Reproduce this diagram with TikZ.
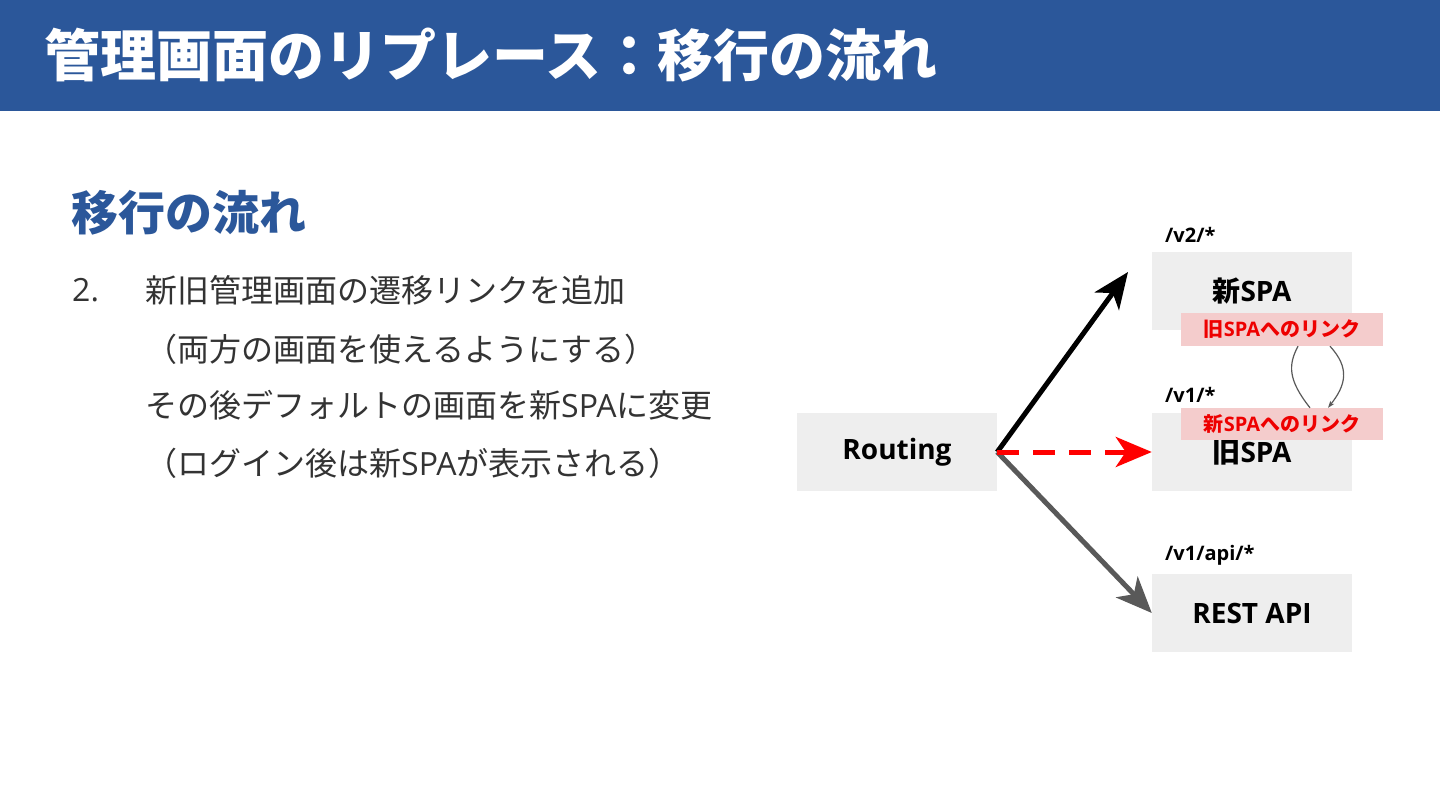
\documentclass[tikz,border=0pt]{standalone}
\usepackage{fontspec}
\setmainfont{Noto Sans CJK JP}
\newfontfamily\lat{Open Sans}
\usetikzlibrary{arrows.meta}
\definecolor{hdr}{HTML}{2B579A}
\definecolor{bodytxt}{HTML}{333333}
\definecolor{boxgray}{HTML}{EEEEEE}
\definecolor{pinkbg}{HTML}{F4CCCC}
\definecolor{linkred}{HTML}{EE0000}
\definecolor{arrgray}{HTML}{595959}
\tikzset{
  box/.style={fill=boxgray, minimum width=200pt, minimum height=78pt, inner sep=0pt, font=\bfseries\fontsize{28}{32}\selectfont, text=black},
  latbox/.style={box, font=\lat\bfseries\fontsize{28}{32}\selectfont},
  linkbox/.style={fill=pinkbg, minimum width=202pt, minimum height=33pt, inner sep=0pt, font=\bfseries\fontsize{20}{24}\selectfont, text=linkred},
  pathlbl/.style={anchor=west, inner sep=0pt, font=\lat\bfseries\fontsize{20}{24}\selectfont, text=black},
  bodyline/.style={anchor=west, inner sep=0pt, font=\fontsize{32}{36}\selectfont, text=bodytxt},
  bigtip/.style={-{Stealth[length=36pt,width=30pt,inset=10pt]}, line width=5pt},
  linkarrow/.style={draw=arrgray, line width=1.2pt},
}
\begin{document}
\begin{tikzpicture}[x=1pt,y=-1pt]
\useasboundingbox (0,0) rectangle (1440,810);
\fill[white] (0,0) rectangle (1440,810);
\fill[hdr] (0,0) rectangle (1440,111);
\node[anchor=west, inner sep=0pt, text=white, font=\bfseries\fontsize{56}{62}\selectfont] (title) at (44,55) {管理画面のリプレース：移行の流れ};
\node[anchor=west, inner sep=0pt, text=hdr, font=\bfseries\fontsize{47}{52}\selectfont] (heading) at (71,213) {移行の流れ};
\node[bodyline] (num) at (72,290) {{\lat 2.}};
\node[bodyline] (l1) at (145,290) {新旧管理画面の遷移リンクを追加};
\node[bodyline] (l2) at (145,349) {（両方の画面を使えるようにする）};
\node[bodyline] (l3) at (145,405) {その後デフォルトの画面を新{\lat SPA}に変更};
\node[bodyline] (l4) at (145,463) {（ログイン後は新{\lat SPA}が表示される）};

\node[latbox] (routing) at (897,452) {Routing};
\node[box] (newspa) at (1252,291) {新{\lat SPA}};
\node[box] (oldspa) at (1252,452) {旧{\lat SPA}};
\node[latbox] (rest) at (1252,613) {REST API};
\node[pathlbl] (p1) at (1165,235) {/v2/*};
\node[pathlbl] (p2) at (1165,395) {/v1/*};
\node[pathlbl] (p3) at (1165,555) {/v1/api/*};

\coordinate (blacktip) at (1128,272);
\draw[bigtip, black] (routing.east) -- (blacktip);
\draw[bigtip, arrgray] (routing.east) -- (rest.west);
\draw[bigtip, red, dash pattern=on 22pt off 14pt] (routing.east) -- (oldspa.west);

\node[linkbox] (tooldlink) at (1282,329.5) {旧{\lat SPA}へのリンク};
\node[linkbox, minimum height=32pt] (tonewlink) at (1282,424) {新{\lat SPA}へのリンク};

\draw[linkarrow] ([xshift=28pt]tonewlink.north) .. controls (1288,380) and (1288,365) .. ([xshift=16pt]tooldlink.south);
\draw[linkarrow, -{Stealth[length=7pt,width=5pt,inset=2pt]}] ([xshift=48pt]tooldlink.south) .. controls (1350,368) and (1346,385) .. ([xshift=46pt]tonewlink.north);
\end{tikzpicture}
\end{document}
